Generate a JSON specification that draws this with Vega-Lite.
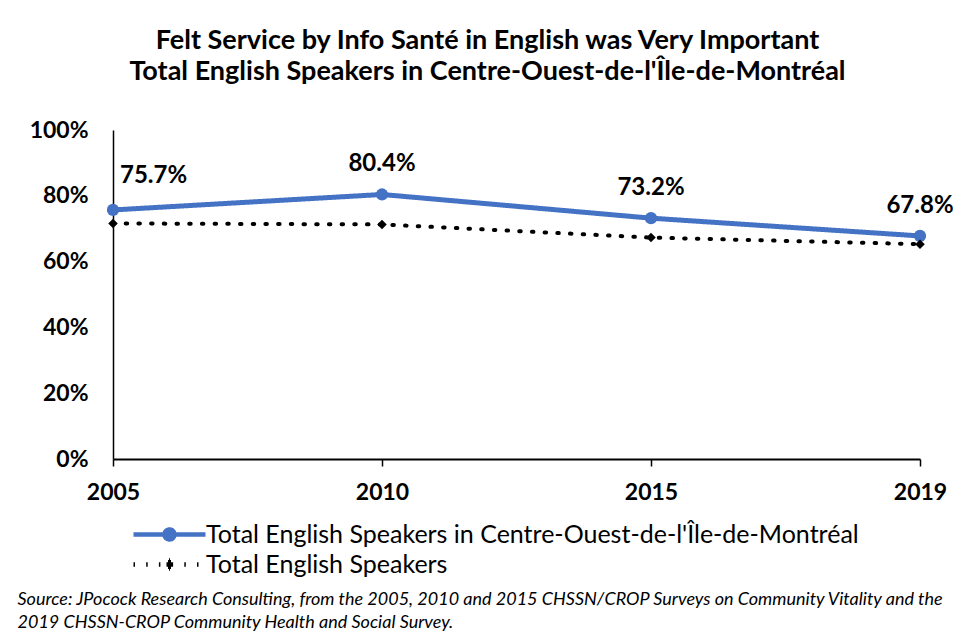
{
  "$schema": "https://vega.github.io/schema/vega-lite/v6.json",
  "width": 807,
  "height": 329,
  "autosize": {"type": "none"},
  "padding": {"left": 113, "top": 130, "right": 33, "bottom": 174},
  "background": "white",
  "config": {"view": {"stroke": null}, "font": "Lato"},
  "title": {
    "text": ["Felt Service by Info Santé in English was Very Important", "Total English Speakers in Centre-Ouest-de-l'Île-de-Montréal"],
    "font": "Lato", "fontSize": 27, "fontWeight": "bold", "color": "black",
    "anchor": "middle", "frame": "group", "dx": -29, "offset": 33, "lineHeight": 31
  },
  "data": {"values": [
    {"year": "2005", "series": "Total English Speakers in Centre-Ouest-de-l'Île-de-Montréal", "value": 0.757},
    {"year": "2010", "series": "Total English Speakers in Centre-Ouest-de-l'Île-de-Montréal", "value": 0.804},
    {"year": "2015", "series": "Total English Speakers in Centre-Ouest-de-l'Île-de-Montréal", "value": 0.732},
    {"year": "2019", "series": "Total English Speakers in Centre-Ouest-de-l'Île-de-Montréal", "value": 0.678},
    {"year": "2005", "series": "Total English Speakers", "value": 0.716},
    {"year": "2010", "series": "Total English Speakers", "value": 0.713},
    {"year": "2015", "series": "Total English Speakers", "value": 0.673},
    {"year": "2019", "series": "Total English Speakers", "value": 0.653}
  ]},
  "encoding": {
    "x": {
      "field": "year", "type": "ordinal", "sort": null,
      "scale": {"type": "point", "padding": 0},
      "axis": {
        "title": ["Source: JPocock Research Consulting, from the 2005, 2010  and 2015  CHSSN/CROP Surveys on Community Vitality and the", "2019  CHSSN-CROP Community Health and Social Survey."],
        "labelAngle": 0, "labelFont": "Lato", "labelFontWeight": "bold", "labelFontSize": 23, "labelColor": "black",
        "labelPadding": 15,
        "domainColor": "black", "domainWidth": 2, "tickColor": "black", "tickSize": 7, "tickWidth": 1.5,
        "titleFont": "Lato", "titleFontStyle": "italic", "titleFontWeight": "normal", "titleFontSize": 18, "titleColor": "black",
        "titleAnchor": "start", "titleAlign": "left", "titleX": -96, "titleY": 131, "titleBaseline": "top", "titleLineHeight": 23
      }
    },
    "y": {
      "field": "value", "type": "quantitative",
      "scale": {"domain": [0, 1]},
      "axis": {
        "title": null, "format": "%", "values": [0, 0.2, 0.4, 0.6, 0.8, 1],
        "ticks": false, "grid": false, "domainColor": "black", "domainWidth": 1.5,
        "labelPadding": 25, "labelFont": "Lato", "labelFontWeight": "bold", "labelFontSize": 23, "labelColor": "black"
      }
    }
  },
  "layer": [
    {
      "transform": [{"filter": "datum.series === 'Total English Speakers'"}],
      "mark": {"type": "line", "strokeCap": "round", "strokeWidth": 4},
      "encoding": {
        "color": {
          "field": "series", "type": "nominal",
          "scale": {"domain": ["Total English Speakers in Centre-Ouest-de-l'Île-de-Montréal", "Total English Speakers"], "range": ["#4472C4", "#000000"]},
          "legend": {
            "orient": "none", "legendX": 44, "legendY": 392, "title": null, "padding": 0,
            "labelFont": "Lato", "labelFontSize": 25, "labelColor": "black", "labelLimit": 0, "labelOffset": 24,
            "symbolSize": 100, "rowPadding": 2, "symbolStrokeWidth": 4.5, "symbolOpacity": 1
          }
        },
        "strokeDash": {
          "field": "series", "type": "nominal",
          "scale": {"domain": ["Total English Speakers in Centre-Ouest-de-l'Île-de-Montréal", "Total English Speakers"], "range": [[1, 0], [1.5, 11.2]]}
        }
      }
    },
    {
      "transform": [{"filter": "datum.series !== 'Total English Speakers'"}],
      "mark": {"type": "line", "strokeCap": "round", "strokeWidth": 5},
      "encoding": {
        "color": {"field": "series", "type": "nominal"},
        "strokeDash": {"field": "series", "type": "nominal"}
      }
    },
    {
      "mark": {"type": "point", "filled": true, "opacity": 0, "size": 100},
      "encoding": {
        "color": {"field": "series", "type": "nominal"},
        "shape": {
          "field": "series", "type": "nominal",
          "scale": {"domain": ["Total English Speakers in Centre-Ouest-de-l'Île-de-Montréal", "Total English Speakers"], "range": ["M-7.2,0L7.2,0M-1,0A1,1,0,1,1,1,0A1,1,0,1,1,-1,0ZM-0.45,0A0.45,0.45,0,1,1,0.45,0A0.45,0.45,0,1,1,-0.45,0Z", "M-7.2,0L7.2,0M-0.6,0L-0.3,0M-0.3,0L0,0M0,0L0.3,0M0.3,0L0.6,0M-0.3,-0.45L0,-0.45M0,-0.45L0.3,-0.45M-0.3,0.45L0,0.45M0,0.45L0.3,0.45M-0.1,-0.8L0.1,-0.8M-0.1,0.8L0.1,0.8"]}
        }
      }
    },
    {
      "transform": [{"filter": "datum.series !== 'Total English Speakers'"}],
      "mark": {"type": "point", "shape": "circle", "filled": true, "opacity": 1, "color": "#4472C4", "size": 150},
      "encoding": {}
    },
    {
      "transform": [{"filter": "datum.series === 'Total English Speakers'"}],
      "mark": {"type": "point", "shape": "diamond", "filled": true, "opacity": 1, "color": "#000000", "size": 90},
      "encoding": {}
    },
    {
      "transform": [{"filter": "datum.series !== 'Total English Speakers' && datum.year === '2005'"}],
      "mark": {"type": "text", "align": "left", "dx": 7, "dy": -34, "font": "Lato", "fontWeight": "bold", "fontSize": 24, "color": "black"},
      "encoding": {"text": {"field": "value", "type": "quantitative", "format": ".1%"}}
    },
    {
      "transform": [{"filter": "datum.series !== 'Total English Speakers' && datum.year !== '2005'"}],
      "mark": {"type": "text", "align": "center", "dy": -30, "font": "Lato", "fontWeight": "bold", "fontSize": 24, "color": "black"},
      "encoding": {"text": {"field": "value", "type": "quantitative", "format": ".1%"}}
    }
  ]
}
